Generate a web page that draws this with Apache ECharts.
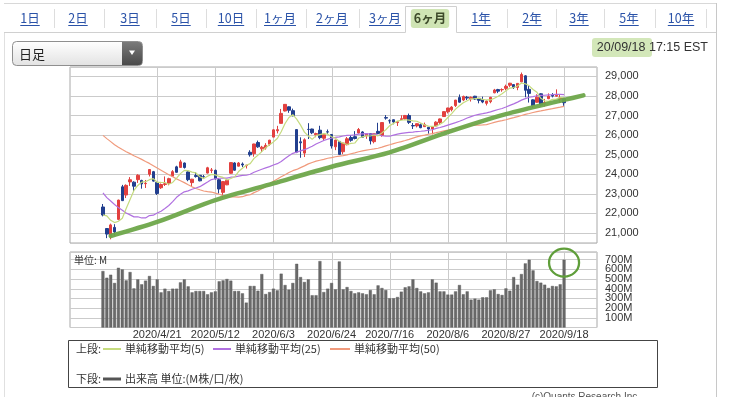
<!DOCTYPE html>
<html><head><meta charset="utf-8">
<script src="https://cdn.jsdelivr.net/npm/echarts@6/dist/echarts.min.js"></script>
<style>html,body{margin:0;padding:0;background:#fff;}#c{width:741px;height:397px;}</style>
</head><body><div id="c"></div>
<script>
// ---------------- DATA ----------------
const dates = ['2020/3/31','2020/4/1','2020/4/2','2020/4/3','2020/4/6','2020/4/7','2020/4/8','2020/4/9','2020/4/13','2020/4/14',
'2020/4/15','2020/4/16','2020/4/17','2020/4/20','2020/4/21','2020/4/22','2020/4/23','2020/4/24','2020/4/27','2020/4/28',
'2020/4/29','2020/4/30','2020/5/1','2020/5/4','2020/5/5','2020/5/6','2020/5/7','2020/5/8','2020/5/11','2020/5/12',
'2020/5/13','2020/5/14','2020/5/15','2020/5/18','2020/5/19','2020/5/20','2020/5/21','2020/5/22','2020/5/26','2020/5/27',
'2020/5/28','2020/5/29','2020/6/1','2020/6/2','2020/6/3','2020/6/4','2020/6/5','2020/6/8','2020/6/9','2020/6/10',
'2020/6/11','2020/6/12','2020/6/15','2020/6/16','2020/6/17','2020/6/18','2020/6/19','2020/6/22','2020/6/23','2020/6/24',
'2020/6/25','2020/6/26','2020/6/29','2020/6/30','2020/7/1','2020/7/2','2020/7/6','2020/7/7','2020/7/8','2020/7/9',
'2020/7/10','2020/7/13','2020/7/14','2020/7/15','2020/7/16','2020/7/17','2020/7/20','2020/7/21','2020/7/22','2020/7/23',
'2020/7/24','2020/7/27','2020/7/28','2020/7/29','2020/7/30','2020/7/31','2020/8/3','2020/8/4','2020/8/5','2020/8/6',
'2020/8/7','2020/8/10','2020/8/11','2020/8/12','2020/8/13','2020/8/14','2020/8/17','2020/8/18','2020/8/19','2020/8/20',
'2020/8/21','2020/8/24','2020/8/25','2020/8/26','2020/8/27','2020/8/28','2020/8/31','2020/9/1','2020/9/2','2020/9/3',
'2020/9/4','2020/9/8','2020/9/9','2020/9/10','2020/9/11','2020/9/14','2020/9/15','2020/9/16','2020/9/17','2020/9/18'];

const opens = [22327,21227,20819,21285,21693,23360,22939,23610,23596,23725,
23685,23520,24000,24132,23583,23310,23481,23539,23901,24378,
24351,24575,24120,23572,23937,23946,23880,24061,24201,24200,
23720,23075,23459,24051,24577,24415,24526,24444,25124,25054,
25624,25299,25343,25535,25899,26221,26601,27232,27447,27251,
26282,25659,25081,26294,26312,26016,26252,25842,26172,26031,
25404,25679,25152,25512,25879,25922,26109,26162,25967,26078,
25667,26193,25978,26896,26737,26787,26640,26800,26830,27001,
26491,26473,26532,26433,26400,26313,26472,26645,26950,27193,
27297,27509,27919,27794,27936,27856,27988,27881,27810,27624,
27710,28162,28327,28319,28390,28549,28582,28440,28722,29029,
28341,27803,27680,28112,27578,27862,28047,27990,27858,27864];

const highs = [22480,21227,21477,21447,22700,23458,23484,23855,23640,24000,
23720,23709,24264,24170,23610,23529,23889,23822,24211,24434,
24741,24600,24150,23766,24114,23948,23965,24380,24319,24240,
23792,23650,23736,24620,24617,24625,24605,24480,25227,25560,
25720,25453,25589,25760,26300,26474,27338,27590,27470,27355,
26310,25888,25837,26611,26330,26125,26479,26041,26288,26060,
25766,25700,25608,25905,26000,26204,26366,26200,26080,26100,
26080,26631,26660,27024,26808,26800,26726,27016,27031,27101,
26620,26603,26593,26640,26380,26468,26709,26850,27220,27400,
27482,27800,28078,28019,28003,27974,28010,27900,27967,27771,
27957,28363,28365,28390,28580,28670,28600,28660,29199,29060,
28512,27830,28088,28140,27850,28133,28147,28339,28061,27890];

const lows = [21848,20735,20677,20863,21650,22630,22784,23402,23122,23556,
23264,23300,23887,23623,22941,23250,23400,23436,23880,24081,
24330,24292,23645,23361,23829,23640,23825,24040,24066,23740,
23014,22790,23443,24030,24180,24400,24365,24294,24901,24898,
25349,25135,25260,25454,25888,26088,26599,27210,27141,26960,
25080,24843,24880,25803,26050,25891,25789,25718,26060,25314,
25232,24990,25024,25478,25663,25780,26079,25882,25813,25524,
25580,26053,25921,26792,26591,26553,26467,26782,26800,26570,
26313,26394,26354,26418,26074,26035,26450,26576,26930,27110,
27214,27439,27660,27738,27794,27716,27796,27625,27632,27516,
27630,28140,28147,28218,28292,28464,28357,28295,28700,27935,
27665,27392,27660,27455,27462,27840,27929,27970,27653,27498];

const closes = [21917,20943,21413,21052,22680,22653,23433,23719,23390,23949,
23504,23537,24242,23650,23018,23475,23515,23775,24134,24101,
24634,24346,23724,23749,23883,23664,23875,24331,24221,23764,
23248,23625,23685,24597,24207,24576,24474,24465,24995,25548,
25400,25383,25475,25742,26270,26281,27111,27572,27272,26990,
25128,25605,25763,26290,26120,26080,25871,26025,26156,25445,
25746,25016,25596,25813,25735,25827,26287,25890,26067,25706,
26075,26086,26643,26870,26734,26672,26681,26840,27005,26652,
26470,26584,26379,26540,26313,26428,26664,26828,27201,27387,
27433,27791,27686,27976,27896,27931,27844,27778,27692,27739,
27930,28308,28248,28331,28492,28654,28430,28645,29100,28292,
28133,27500,27940,27535,27666,27993,27995,28032,27902,27657];

const ma5 = [21926,21875,21647,21530,21601,21748,22246,22707,23175,23429,
23599,23620,23724,23776,23590,23584,23580,23487,23583,23800,
24032,24198,24188,24111,24067,23873,23779,23900,23995,23971,
23888,23838,23709,23784,23872,24138,24308,24464,24543,24812,
24976,25158,25360,25510,25654,25830,26176,26595,26901,27045,
26815,26513,26152,25955,25781,25972,26025,26077,26050,25915,
25849,25678,25592,25523,25581,25597,25852,25910,25961,25955,
26005,25965,26115,26276,26482,26601,26720,26759,26786,26770,
26730,26710,26618,26525,26457,26449,26465,26555,26687,26902,
27103,27328,27500,27655,27756,27856,27867,27885,27828,27797,
27797,27889,27983,28111,28262,28407,28431,28510,28664,28624,
28520,28334,28193,27880,27755,27727,27826,27844,27918,27916];

const ma25 = [23046,22806,22632,22457,22296,22166,22019,21923,21824,21828,
21767,21767,21888,21907,22020,22110,22254,22402,22600,22821,
22978,23104,23151,23235,23297,23367,23484,23601,23728,23771,
23795,23803,23801,23849,23860,23903,23940,23949,24003,24104,
24181,24256,24324,24388,24475,24541,24651,24805,24946,25071,
25129,25198,25256,25338,25433,25546,25636,25729,25792,25841,
25888,25910,25955,25988,25995,26012,26048,26065,26078,26055,
26047,26006,25969,25953,25943,26004,26047,26090,26119,26140,
26156,26184,26198,26214,26249,26276,26342,26391,26447,26513,
26577,26637,26709,26785,26873,26947,27017,27063,27096,27136,
27186,27251,27308,27361,27435,27522,27596,27687,27789,27868,
27936,27970,28014,28027,28038,28061,28069,28083,28080,28070];

const ma50 = [25987,25822,25667,25505,25378,25261,25155,25055,24945,24859,
24761,24656,24555,24440,24319,24206,24091,23975,23870,23764,
23672,23572,23462,23357,23275,23207,23145,23116,23092,23034,
22980,22911,22862,22837,22844,22835,22853,22918,22954,23062,
23145,23255,23362,23494,23647,23759,23877,23977,24090,24183,
24247,24341,24428,24532,24601,24670,24718,24764,24820,24850,
24894,24924,24951,24994,25049,25096,25151,25194,25232,25264,
25293,25328,25386,25449,25506,25566,25622,25672,25728,25786,
25850,25909,25963,26002,26044,26081,26125,26172,26216,26253,
26294,26342,26386,26431,26463,26496,26511,26515,26523,26538,
26596,26650,26700,26741,26788,26840,26891,26943,27002,27059,
27107,27157,27204,27238,27277,27320,27354,27397,27434,27473];

const volumes = [583,514,545,460,617,600,487,573,404,497,
446,484,532,429,497,363,401,377,401,401,
466,497,425,363,377,377,377,343,363,373,
477,487,501,484,377,377,353,257,429,429,
380,552,346,366,401,384,556,439,391,460,
658,521,470,497,333,333,686,366,401,460,
394,682,394,418,377,353,363,353,343,387,
343,435,408,387,302,302,315,370,415,425,
497,408,373,353,363,497,463,373,373,340,
340,373,439,343,373,288,298,288,312,312,
384,394,346,336,404,380,521,442,552,662,
700,590,480,463,442,408,429,425,446,700];

const tickDates = ['2020/4/21','2020/5/12','2020/6/3','2020/6/24','2020/7/16','2020/8/6','2020/8/27','2020/9/18'];
const priceTicks = [21000,22000,23000,24000,25000,26000,27000,28000,29000];

// hand-drawn green trend line (bar offset from first bar, price)
const trendPos = [2,14,29,44,59,74,89,104,119,124];
const trendVal = [20846,21564,22677,23533,24385,25120,26150,27070,27800,28030];

const tabLabels = ['1日','2日','3日','5日','10日','1ヶ月','2ヶ月','3ヶ月','6ヶ月','1年','2年','3年','5年','10年'];
const selectedTab = '6ヶ月';

// ---------------- BUILD ----------------
const PAD = 8;
const cats = [];
for (let i = 0; i < PAD; i++) cats.push('pre' + i);
dates.forEach(d => cats.push(d));
for (let i = 0; i < PAD; i++) cats.push('post' + i);

const candleData = dates.map((d, i) => [d, opens[i], closes[i], lows[i], highs[i]]);
const lineData = arr => dates.map((d, i) => [d, arr[i]]);
const trendData = trendPos.map((p, i) => [PAD + p, trendVal[i]]);
const volData = dates.map((d, i) => [d, volumes[i]]);
const lastDate = dates[dates.length - 1];
const tickIdx = tickDates.map(d => cats.indexOf(d));

const JP = '"Noto Sans CJK JP", sans-serif';
const LAT = '"Liberation Sans", Arial, sans-serif';

const measure = (txt, font) => {
  const c = document.createElement('canvas').getContext('2d');
  c.font = font; return c.measureText(txt).width;
};

const GRID_COLOR = '#cbcbcb';
const gridLineStyle = {color: GRID_COLOR, width: 1, type: 'solid'};
const PRICE_MIN = 20487, PRICE_TOP = 29482, VOL_TOP = 780;
const G0 = {left:70, top:67, width:527, height:176};
const G1 = {left:70, top:252, width:527, height:75.5};

// ---------- page chrome ----------
const graphics = [];
graphics.push({type:'line', shape:{x1:4, y1:3.5, x2:716, y2:3.5}, style:{stroke:'#d8d8d8', lineWidth:1}, silent:true});
graphics.push({type:'line', shape:{x1:716.5, y1:3, x2:716.5, y2:397}, style:{stroke:'#c8c8c8', lineWidth:1}, silent:true});
graphics.push({type:'line', shape:{x1:4.5, y1:32, x2:4.5, y2:397}, style:{stroke:'#e0e0e0', lineWidth:1}, silent:true});
const tabX = [30,78,130,181,231,280,332,385,430,481,532,579,629,681];
const selIdx = tabLabels.indexOf(selectedTab);
const selL = 405.5, selR = 456.5;
graphics.push({type:'line', shape:{x1:4, y1:32.5, x2:selL, y2:32.5}, style:{stroke:'#d0d0d0', lineWidth:1}, silent:true});
graphics.push({type:'line', shape:{x1:selR, y1:32.5, x2:716, y2:32.5}, style:{stroke:'#d0d0d0', lineWidth:1}, silent:true});
graphics.push({type:'polyline', shape:{points:[[selL,32.5],[selL,6.5],[selR,6.5],[selR,32.5]]}, style:{stroke:'#d0d0d0', fill:null, lineWidth:1}, silent:true});
tabLabels.forEach((t, i) => {
  const sel = i === selIdx;
  const font = (sel ? 'bold ' : '') + '12.5px ' + JP;
  const w = measure(t, font);
  if (sel) {
    graphics.push({type:'rect', shape:{x:tabX[i]-w/2-3, y:9, width:w+6, height:19, r:3}, style:{fill:'#cfe4b4'}, silent:true});
  }
  graphics.push({type:'text', x:tabX[i], y:18, style:{text:t, font:font, fill: sel ? '#3d4a2a' : '#2a52a8', align:'center', verticalAlign:'middle'}, silent:true});
  if (!sel) {
    graphics.push({type:'line', shape:{x1:tabX[i]-w/2, y1:25.5, x2:tabX[i]+w/2, y2:25.5}, style:{stroke:'#2a52a8', lineWidth:1}, silent:true});
  }
  if (i < tabLabels.length - 1 && i !== selIdx && i + 1 !== selIdx) {
    const sx = Math.round((tabX[i] + tabX[i+1]) / 2) + 0.5;
    graphics.push({type:'line', shape:{x1:sx, y1:9, x2:sx, y2:28}, style:{stroke:'#dddddd', lineWidth:1}, silent:true});
  }
});
const lastSep = Math.round(tabX[tabX.length-1] + 25) + 0.5;
graphics.push({type:'line', shape:{x1:lastSep, y1:9, x2:lastSep, y2:28}, style:{stroke:'#dddddd', lineWidth:1}, silent:true});

// dropdown
graphics.push({type:'rect', shape:{x:12.5, y:41.5, width:130, height:24, r:4},
  style:{fill:new echarts.graphic.LinearGradient(0,0,0,1,[{offset:0,color:'#ffffff'},{offset:1,color:'#e2e2e2'}]), stroke:'#8f8f8f', lineWidth:1}, silent:true});
graphics.push({type:'rect', shape:{x:122, y:42, width:20, height:23, r:[0,3,3,0]},
  style:{fill:new echarts.graphic.LinearGradient(0,0,0,1,[{offset:0,color:'#7a7a7a'},{offset:1,color:'#4a4a4a'}])}, silent:true});
graphics.push({type:'polygon', shape:{points:[[129,50.5],[135,50.5],[132,55]]}, style:{fill:'#ffffff'}, silent:true});
graphics.push({type:'text', x:19, y:54, style:{text:'日足', font:'13px ' + JP, fill:'#222', align:'left', verticalAlign:'middle'}, silent:true});

// timestamp
graphics.push({type:'rect', shape:{x:592, y:38, width:60, height:19, r:3}, style:{fill:'#d3e7b9'}, silent:true});
graphics.push({type:'text', x:708, y:47.5, style:{text:'20/09/18 17:15 EST', font:'12.5px ' + LAT, fill:'#333', align:'right', verticalAlign:'middle'}, silent:true});

// legend box
graphics.push({type:'rect', shape:{x:68.5, y:340.5, width:589, height:47}, style:{fill:null, stroke:'#444', lineWidth:1}, silent:true});
const legFont = '11px ' + JP;
const legRow1 = 349, legRow2 = 379;
graphics.push({type:'text', x:76, y:legRow1, style:{text:'上段:', font:legFont, fill:'#333', verticalAlign:'middle'}, silent:true});
const legItems = [
  {x1:103, x2:121, color:'#c5db7e', tx:125, text:'単純移動平均(5)'},
  {x1:213, x2:231, color:'#b070e0', tx:235, text:'単純移動平均(25)'},
  {x1:330, x2:350, color:'#f09a7c', tx:354, text:'単純移動平均(50)'}
];
legItems.forEach(it => {
  graphics.push({type:'line', shape:{x1:it.x1, y1:legRow1, x2:it.x2, y2:legRow1}, style:{stroke:it.color, lineWidth:2}, silent:true});
  graphics.push({type:'text', x:it.tx, y:legRow1, style:{text:it.text, font:legFont, fill:'#333', verticalAlign:'middle'}, silent:true});
});
graphics.push({type:'text', x:76, y:legRow2, style:{text:'下段:', font:legFont, fill:'#333', verticalAlign:'middle'}, silent:true});
graphics.push({type:'line', shape:{x1:103, y1:legRow2, x2:121, y2:legRow2}, style:{stroke:'#555', lineWidth:3}, silent:true});
graphics.push({type:'text', x:125, y:legRow2, style:{text:'出来高 単位:(M株/口/枚)', font:legFont, fill:'#333', verticalAlign:'middle'}, silent:true});
graphics.push({type:'text', x:640, y:397, style:{text:'(c)Quants Research Inc.', font:'10px ' + LAT, fill:'#555', align:'right', verticalAlign:'middle'}, silent:true});

// ---------------- OPTION ----------------
const chart = echarts.init(document.getElementById('c'), null, {renderer:'canvas'});
const catAxis = (gi, extra) => Object.assign({type:'category', gridIndex:gi, data:cats, boundaryGap:true,
  axisLine:{show:false}, axisTick:{show:false}, axisLabel:{show:false}, splitLine:{show:false}}, extra || {});
const option = {
  animation: false,
  backgroundColor: '#fff',
  grid: [
    Object.assign({show:true, borderColor:'#a8a8a8', borderWidth:1}, G0),
    Object.assign({show:true, borderColor:'#a8a8a8', borderWidth:1}, G1)
  ],
  xAxis: [
    catAxis(0),
    catAxis(1, {axisLabel:{show:true, interval:(idx) => tickIdx.indexOf(idx) >= 0, margin:2,
        fontSize:11, fontFamily:LAT, color:'#333', hideOverlap:false}})
  ],
  yAxis: [
    {type:'value', gridIndex:0, position:'right', min:PRICE_MIN, max:PRICE_TOP, splitNumber:9, scale:true,
      axisLine:{show:false}, axisTick:{show:false},
      splitLine:{show:true, lineStyle:gridLineStyle},
      axisLabel:{margin:8, fontSize:11, fontFamily:LAT, color:'#333', showMinLabel:false, showMaxLabel:false,
        formatter: v => priceTicks.indexOf(v) >= 0 ? v.toLocaleString('en-US') : ''}},
    {type:'value', gridIndex:1, position:'right', min:0, max:VOL_TOP, splitNumber:8,
      axisLine:{show:false}, axisTick:{show:false},
      splitLine:{show:true, lineStyle:gridLineStyle},
      axisLabel:{margin:8, fontSize:11, fontFamily:LAT, color:'#333', showMinLabel:false, showMaxLabel:false,
        formatter: v => (v > 0 && v < VOL_TOP) ? v + 'M' : ''}}
  ],
  series: [
    {type:'candlestick', name:'price', xAxisIndex:0, yAxisIndex:0, data:candleData, z:3,
      encode:{x:0, y:[1,2,3,4]}, barWidth:3,
      itemStyle:{color:'#e2403f', color0:'#223f8e', borderColor:'#e2403f', borderColor0:'#223f8e', borderWidth:1}},
    {type:'line', name:'単純移動平均(50)', xAxisIndex:0, yAxisIndex:0, data:lineData(ma50), showSymbol:false, z:4,
      lineStyle:{color:'#f09a7c', width:1.2}},
    {type:'line', name:'単純移動平均(25)', xAxisIndex:0, yAxisIndex:0, data:lineData(ma25), showSymbol:false, z:4,
      lineStyle:{color:'#b070e0', width:1.2}},
    {type:'line', name:'単純移動平均(5)', xAxisIndex:0, yAxisIndex:0, data:lineData(ma5), showSymbol:false, z:4,
      lineStyle:{color:'#c5db7e', width:1.2}},
    {type:'line', name:'trend', xAxisIndex:0, yAxisIndex:0, data:trendData, showSymbol:false, z:5, smooth:0.3,
      lineStyle:{color:'#6ea64a', width:4.5, cap:'round', join:'round', opacity:0.95}},
    {type:'bar', name:'出来高', xAxisIndex:1, yAxisIndex:1, data:volData, barWidth:3, z:3,
      itemStyle:{color:'#6a6a6a', borderColor:'#555', borderWidth:0.4},
      markPoint:{symbol:'circle', symbolSize:[30,28], silent:true, label:{show:false},
        itemStyle:{color:'rgba(0,0,0,0)', borderColor:'#5f9e3a', borderWidth:2.2},
        data:[{coord:[lastDate, 670]}]}}
  ],
  graphic: {elements: graphics}
};
chart.setOption(option);

// vertical grid lines at the tick dates, positioned through the category axis (numeric index)
const vg = [];
tickIdx.forEach(ci => {
  let xp = chart.convertToPixel({xAxisIndex: 0}, ci);
  if (Array.isArray(xp)) xp = xp[0];
  if (!isFinite(xp)) xp = G0.left + (ci + 0.5) * G0.width / cats.length;
  const x = Math.round(xp) + 0.5;
  vg.push({type:'line', z:2, shape:{x1:x, y1:G0.top, x2:x, y2:G0.top + G0.height}, style:{stroke:GRID_COLOR, lineWidth:1}, silent:true});
  vg.push({type:'line', z:2, shape:{x1:x, y1:G1.top, x2:x, y2:G1.top + G1.height}, style:{stroke:GRID_COLOR, lineWidth:1}, silent:true});
});
vg.push({type:'text', z:20, x:74, y:260, style:{text:'単位: M', font:'10px ' + JP, fill:'#333', align:'left', verticalAlign:'middle'}, silent:true});
chart.setOption({graphic: {elements: graphics.concat(vg)}}, {replaceMerge: ['graphic']});
</script>
</body></html>
